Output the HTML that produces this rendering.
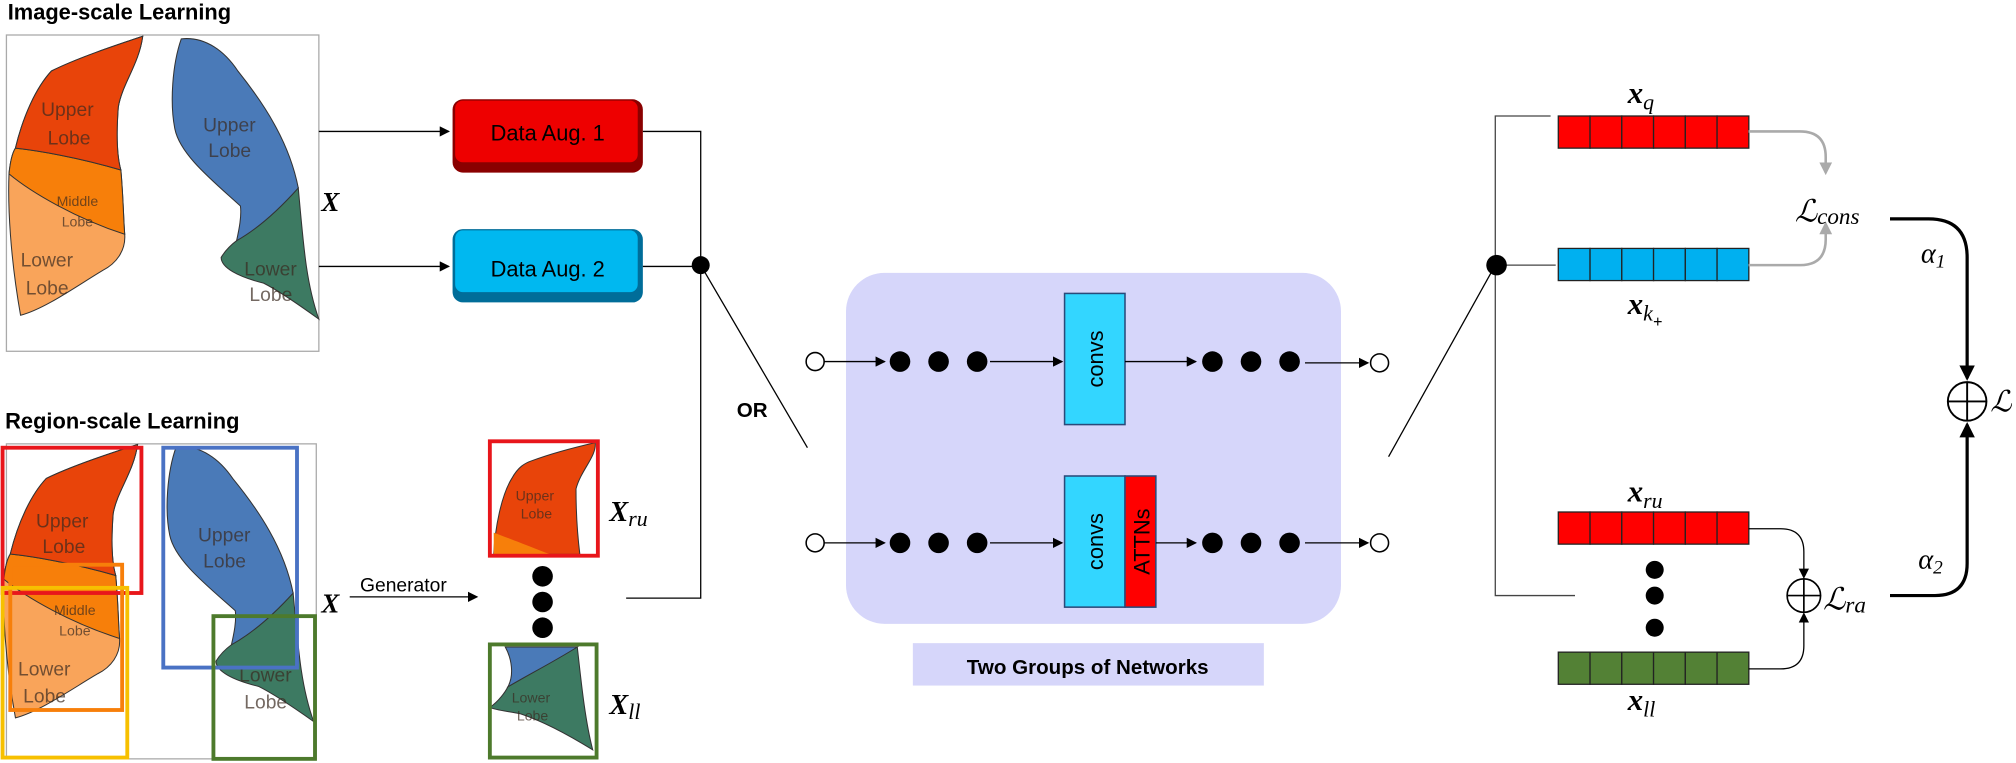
<!DOCTYPE html>
<html><head><meta charset="utf-8"><style>
html,body{margin:0;padding:0;background:#fff;}
svg{display:block;}
.t{font-family:"Liberation Sans",sans-serif;}
.m{font-family:"Liberation Serif",serif;font-style:italic;font-weight:bold;}
.mi{font-family:"Liberation Serif",serif;font-style:italic;}
.lb{font-family:"Liberation Sans",sans-serif;fill:#3a2a20;opacity:.7;}
</style></head><body>
<svg width="2016" height="763" viewBox="0 0 1568 593" xmlns="http://www.w3.org/2000/svg">
<defs>
<marker id="ah" markerWidth="8" markerHeight="8" refX="7" refY="4" orient="auto" markerUnits="userSpaceOnUse"><path d="M0,0 L8,4 L0,8 Z" fill="#000"/></marker>
<marker id="ahg" markerWidth="10" markerHeight="10" refX="8" refY="5" orient="auto" markerUnits="userSpaceOnUse"><path d="M0,0 L10,5 L0,10 Z" fill="#aaa"/></marker>
<marker id="ahb" markerWidth="12" markerHeight="12" refX="10" refY="6" orient="auto" markerUnits="userSpaceOnUse"><path d="M0,0 L12,6 L0,12 Z" fill="#000"/></marker>
<g id="lungs" stroke="#333" stroke-width="0.8">
<path d="M40,55 C60,45 90,35 111,28 C108,50 95,65 92,83 C90,110 92,125 94,132 C96,155 96,170 97,182 C98,195 90,205 80,210 C60,222 35,240 16,245 C8,200 6,160 7,135 C8,125 10,118 12,115 C18,90 28,68 40,55 Z" fill="#f9a45a"/>
<path d="M12,115 C30,117 60,122 94,132 C96,155 96,170 97,182 C60,170 25,150 7,135 C8,125 10,118 12,115 Z" fill="#f77f0a"/>
<path d="M40,55 C60,45 90,35 111,28 C108,50 95,65 92,83 C90,110 92,125 94,132 C60,122 30,117 12,115 C18,90 28,68 40,55 Z" fill="#e8440a"/>
<path d="M232,146 C236,190 238,220 248,248 C230,235 215,225 205,220 C185,215 172,208 172,200 C175,195 180,190 184,187 Z" fill="#3d7a62"/>
<path d="M141,30 C160,28 175,40 185,55 C205,80 225,110 232,146 C215,165 200,178 184,187 C186,178 188,168 187,160 C165,140 140,120 136,100 C132,80 134,50 141,30 Z" fill="#4a7ab8"/>
</g>
</defs>

<!-- Image-scale -->
<text class="t" x="6" y="15" font-size="17" font-weight="bold">Image-scale Learning</text>
<rect x="5" y="27" width="243" height="246" fill="#fff" stroke="#aaa"/>
<use href="#lungs"/>
<g class="lb" font-size="15">
<text x="32" y="90">Upper</text><text x="37" y="112">Lobe</text>
<text x="158" y="102">Upper</text><text x="162" y="122">Lobe</text>
<text x="44" y="160" font-size="11">Middle</text><text x="48" y="176" font-size="11">Lobe</text>
<text x="16" y="207">Lower</text><text x="20" y="229">Lobe</text>
<text x="190" y="214">Lower</text><text x="194" y="234">Lobe</text>
</g>
<text class="m" x="250" y="164" font-size="21">X</text>
<line x1="248" y1="102" x2="349" y2="102" stroke="#000" marker-end="url(#ah)"/>
<line x1="248" y1="207" x2="349" y2="207" stroke="#000" marker-end="url(#ah)"/>
<g>
<rect x="352" y="77" width="148" height="57" rx="8" fill="#8a0000"/>
<rect x="354" y="78" width="142" height="48" rx="6" fill="#ee0000"/>
<text class="t" x="426" y="109" font-size="17" text-anchor="middle">Data Aug. 1</text></g>
<g>
<rect x="352" y="178" width="148" height="57" rx="8" fill="#006d99"/>
<rect x="354" y="179" width="142" height="48" rx="6" fill="#00b8f0"/>
<text class="t" x="426" y="215" font-size="17" text-anchor="middle">Data Aug. 2</text></g>
<path d="M500,102 H545 V465 H487" fill="none" stroke="#000"/>
<line x1="500" y1="207" x2="545" y2="207" stroke="#000"/>
<circle cx="545" cy="206" r="7" fill="#000"/>
<line x1="545" y1="206" x2="628" y2="348" stroke="#000"/>
<text class="t" x="573" y="324" font-size="16" font-weight="bold">OR</text>

<!-- Region-scale -->
<text class="t" x="4" y="333" font-size="17" font-weight="bold">Region-scale Learning</text>
<rect x="5" y="345" width="241" height="245" fill="#fff" stroke="#aaa"/>
<use href="#lungs" transform="translate(-4,318) scale(1,0.98)"/>
<g class="lb" font-size="15">
<text x="28" y="410">Upper</text><text x="33" y="430">Lobe</text>
<text x="154" y="421">Upper</text><text x="158" y="441">Lobe</text>
<text x="42" y="478" font-size="11">Middle</text><text x="46" y="494" font-size="11">Lobe</text>
<text x="14" y="525">Lower</text><text x="18" y="546">Lobe</text>
<text x="186" y="530">Lower</text><text x="190" y="551">Lobe</text>
</g>
<g fill="none" stroke-width="3">
<rect x="2" y="348" width="108" height="113" stroke="#e8161b"/>
<rect x="8" y="439" width="87" height="113" stroke="#f77f0a"/>
<rect x="2" y="457" width="97" height="132" stroke="#f7c000"/>
<rect x="127" y="348" width="104" height="171" stroke="#4a72c4"/>
<rect x="166" y="479" width="79" height="111" stroke="#4d7a2c"/>
</g>
<text class="m" x="250" y="476" font-size="21">X</text>
<text class="t" x="280" y="460" font-size="15">Generator</text>
<line x1="272" y1="464" x2="371" y2="464" stroke="#000" marker-end="url(#ah)"/>
<g>
<path d="M414,358 C430,352 450,347 463,344 C464,355 452,365 448,380 C448,400 449,415 451,431 L384,431 C385,410 390,385 398,372 C403,363 408,360 414,358 Z" fill="#e8440a" stroke="#333" stroke-width=".8"/>
<path d="M384,414 C400,420 420,428 428,431 L384,431 Z" fill="#f77f0a"/>
<text class="lb" x="401" y="389" font-size="11">Upper</text><text class="lb" x="405" y="403" font-size="11">Lobe</text>
<rect x="381" y="343" width="84" height="89" fill="none" stroke="#e8161b" stroke-width="3"/></g>
<text class="m" x="474" y="405" font-size="22">X<tspan font-size="17" dy="4" font-weight="normal">ru</tspan></text>
<g fill="#000"><circle cx="422" cy="448" r="8"/><circle cx="422" cy="468" r="8"/><circle cx="422" cy="488" r="8"/></g>
<g>
<path d="M449,503 C452,530 455,560 461,583 C440,570 420,560 405,555 C395,553 385,552 381,550 C388,545 393,538 395,534 Z" fill="#3d7a62" stroke="#333" stroke-width=".8"/>
<path d="M393,503 L449,503 C430,515 410,525 395,534 C400,525 398,512 393,503 Z" fill="#4a7ab8" stroke="#333" stroke-width=".8"/>
<text class="lb" x="398" y="546" font-size="11">Lower</text><text class="lb" x="402" y="560" font-size="11">Lobe</text>
<rect x="381" y="501" width="83" height="88" fill="none" stroke="#4d7a2c" stroke-width="3"/></g>
<text class="m" x="474" y="555" font-size="22">X<tspan font-size="17" dy="4" font-weight="normal">ll</tspan></text>

<!-- Networks -->
<rect x="658" y="212" width="385" height="273" rx="30" fill="#d6d6fa"/>
<rect x="710" y="500" width="273" height="33" fill="#d6d6fa"/>
<text class="t" x="846" y="524" font-size="16" font-weight="bold" text-anchor="middle">Two Groups of Networks</text>
<g>
<circle cx="634" cy="281" r="7" fill="#fff" stroke="#000" stroke-width="1.2"/>
<line x1="641" y1="281" x2="688" y2="281" stroke="#000" marker-end="url(#ah)"/>
<circle cx="700" cy="281" r="8"/><circle cx="730" cy="281" r="8"/><circle cx="760" cy="281" r="8"/>
<line x1="770" y1="281" x2="826" y2="281" stroke="#000" marker-end="url(#ah)"/>
<rect x="828" y="228" width="47" height="102" fill="#33d6ff" stroke="#2a4a7a" stroke-width="1.2"/>
<text class="t" transform="translate(858,279) rotate(-90)" font-size="17" text-anchor="middle">convs</text>
<line x1="875" y1="281" x2="930" y2="281" stroke="#000" marker-end="url(#ah)"/>
<circle cx="943" cy="281" r="8"/><circle cx="973" cy="281" r="8"/><circle cx="1003" cy="281" r="8"/>
<line x1="1015" y1="282" x2="1064" y2="282" stroke="#000" marker-end="url(#ah)"/>
<circle cx="1073" cy="282" r="7" fill="#fff" stroke="#000" stroke-width="1.2"/></g>
<g>
<circle cx="634" cy="422" r="7" fill="#fff" stroke="#000" stroke-width="1.2"/>
<line x1="641" y1="422" x2="688" y2="422" stroke="#000" marker-end="url(#ah)"/>
<circle cx="700" cy="422" r="8"/><circle cx="730" cy="422" r="8"/><circle cx="760" cy="422" r="8"/>
<line x1="770" y1="422" x2="826" y2="422" stroke="#000" marker-end="url(#ah)"/>
<rect x="828" y="370" width="47" height="102" fill="#33d6ff" stroke="#2a4a7a" stroke-width="1.2"/>
<rect x="875" y="370" width="24" height="102" fill="#ff0000" stroke="#2a4a7a" stroke-width="1.2"/>
<text class="t" transform="translate(858,421) rotate(-90)" font-size="17" text-anchor="middle">convs</text>
<text class="t" transform="translate(894,421) rotate(-90)" font-size="17" text-anchor="middle">ATTNs</text>
<line x1="899" y1="422" x2="930" y2="422" stroke="#000" marker-end="url(#ah)"/>
<circle cx="943" cy="422" r="8"/><circle cx="973" cy="422" r="8"/><circle cx="1003" cy="422" r="8"/>
<line x1="1015" y1="422" x2="1064" y2="422" stroke="#000" marker-end="url(#ah)"/>
<circle cx="1073" cy="422" r="7" fill="#fff" stroke="#000" stroke-width="1.2"/></g>

<!-- Right side -->
<line x1="1080" y1="355" x2="1163" y2="206" stroke="#000"/>
<path d="M1206,90 H1163 V463 H1225" fill="none" stroke="#444"/>
<line x1="1163" y1="206" x2="1210" y2="206" stroke="#444"/>
<circle cx="1164" cy="206" r="8" fill="#000"/>
<g id="vecs"></g>
<text class="m" x="1266" y="80" font-size="24">x<tspan font-size="17" dy="5" font-weight="normal">q</tspan></text>
<text class="m" x="1266" y="244" font-size="24">x<tspan font-size="17" dy="5" font-weight="normal">k</tspan><tspan font-size="13" dy="5">+</tspan></text>
<text class="m" x="1266" y="390" font-size="24">x<tspan font-size="17" dy="5" font-weight="normal">ru</tspan></text>
<text class="m" x="1266" y="552" font-size="24">x<tspan font-size="17" dy="5" font-weight="normal">ll</tspan></text>
<g fill="#000"><circle cx="1287" cy="443" r="7"/><circle cx="1287" cy="463" r="7"/><circle cx="1287" cy="488" r="7"/></g>
<path d="M1360,102 H1400 Q1420,102 1420,122 V134" fill="none" stroke="#aaa" stroke-width="2" marker-end="url(#ahg)"/>
<path d="M1360,206 H1400 Q1420,206 1420,186 V174" fill="none" stroke="#aaa" stroke-width="2" marker-end="url(#ahg)"/>
<text class="mi" x="1396" y="172" font-size="24">ℒ<tspan font-size="18" dy="2">cons</tspan></text>
<path d="M1470,170 H1500 Q1530,170 1530,200 V294" fill="none" stroke="#000" stroke-width="2.5" marker-end="url(#ahb)"/>
<text class="mi" x="1494" y="204" font-size="22">α<tspan font-size="15" dy="4">1</tspan></text>
<g><circle cx="1530" cy="312" r="15" fill="#fff" stroke="#000" stroke-width="1.5"/><line x1="1515" y1="312" x2="1545" y2="312" stroke="#000" stroke-width="1.5"/><line x1="1530" y1="297" x2="1530" y2="327" stroke="#000" stroke-width="1.5"/></g>
<text class="mi" x="1548" y="320" font-size="23">ℒ</text>
<path d="M1470,463 H1505 Q1530,463 1530,438 V330" fill="none" stroke="#000" stroke-width="2.5" marker-end="url(#ahb)"/>
<text class="mi" x="1492" y="442" font-size="22">α<tspan font-size="15" dy="4">2</tspan></text>
<g><circle cx="1403" cy="463" r="13" fill="#fff" stroke="#000" stroke-width="1.3"/><line x1="1390" y1="463" x2="1416" y2="463" stroke="#000" stroke-width="1.3"/><line x1="1403" y1="450" x2="1403" y2="476" stroke="#000" stroke-width="1.3"/></g>
<text class="mi" x="1418" y="474" font-size="24">ℒ<tspan font-size="18" dy="2">ra</tspan></text>
<path d="M1360,411 H1385 Q1403,411 1403,429 V449" fill="none" stroke="#000" marker-end="url(#ah)"/>
<path d="M1360,520 H1385 Q1403,520 1403,502 V477" fill="none" stroke="#000" marker-end="url(#ah)"/>
</svg>
<script>
const vecNames=['xq-vector','xk-vector','xru-vector','xll-vector'];
const vecColors=['#ff0000','#00b0f0','#ff0000','#538135'];
const vecTops=[90,193,398,507];
const g=document.getElementById('vecs');
const NS='http://www.w3.org/2000/svg';
for(let i=0;i<4;i++){
  const grp=document.createElementNS(NS,'g');
  
  
  for(let c=0;c<6;c++){
    const r=document.createElementNS(NS,'rect');
    r.setAttribute('x',1212+c*24.7);r.setAttribute('y',vecTops[i]);
    r.setAttribute('width',24.7);r.setAttribute('height',25);
    r.setAttribute('fill',vecColors[i]);r.setAttribute('stroke','#222');r.setAttribute('stroke-width','1');
    
    
    grp.appendChild(r);
  }
  g.appendChild(grp);
}
</script>
</body></html>
